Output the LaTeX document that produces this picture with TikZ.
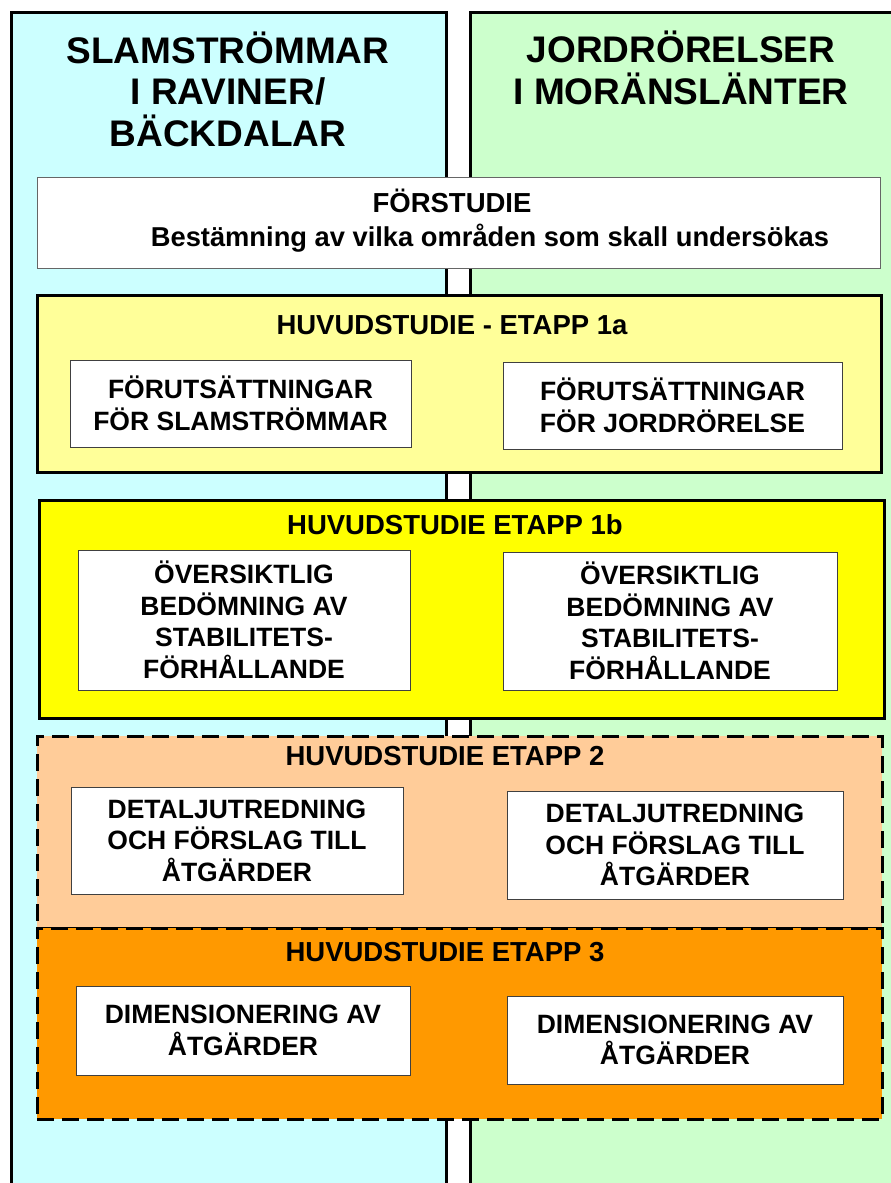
\documentclass[tikz,border=0pt]{standalone}
\usepackage{fontspec}
\setmainfont{Liberation Sans}
\definecolor{colA}{HTML}{CCFFFF}
\definecolor{colB}{HTML}{CCFFCC}
\definecolor{st1a}{HTML}{FFFF99}
\definecolor{st1b}{HTML}{FFFF00}
\definecolor{st2}{HTML}{FFCC99}
\definecolor{st3}{HTML}{FF9900}
\tikzset{
  coltitle/.style={font=\bfseries\fontsize{37}{41.5}\selectfont, align=center, inner sep=0pt},
  stagebox/.style={line width=3pt, draw=black, inner sep=0pt, outer sep=0pt},
  dashbox/.style={stagebox, dash pattern=on 17pt off 8pt},
  stagetitle/.style={font=\bfseries\fontsize{27.5}{31}\selectfont, inner sep=0pt},
  innerbox/.style={draw=black!75, line width=1pt, fill=white, inner sep=0pt, outer sep=0pt,
    align=center, font=\bfseries\fontsize{26.5}{31.5}\selectfont},
}
\begin{document}
\begin{tikzpicture}[x=1pt,y=-1pt]
\useasboundingbox (0,0) rectangle (891,1183);
\fill[white] (0,0) rectangle (891,1183);
% columns
\fill[colA] (11,12) rectangle (446,1190);
\draw[line width=3pt] (11,1190) -- (11,12) -- (446,12) -- (446,1190);
\fill[colB] (470,12) rectangle (900,1190);
\draw[line width=3pt] (470,1190) -- (470,12) -- (900,12);
\node[coltitle] (tA) at (228,89) {SLAMSTRÖMMAR\\I RAVINER/\\BÄCKDALAR};
\node[coltitle] (tB) at (681,68) {JORDRÖRELSER\\I MORÄNSLÄNTER};
% forstudie
\node[draw=black!60, line width=0.8pt, fill=white, minimum width=843pt, minimum height=91pt, inner sep=0pt] (fs) at (458.5,222.5) {};
\node[font=\bfseries\fontsize{27.5}{31}\selectfont, inner sep=0pt] (fsT) at (452,201) {FÖRSTUDIE};
\node[font=\bfseries\fontsize{27.3}{31}\selectfont, inner sep=0pt] (fsS) at (490,238) {Bestämning av vilka områden som skall undersökas};
% etapp 1a
\node[stagebox, fill=st1a, minimum width=844pt, minimum height=177pt] (s1a) at (459,383.5) {};
\node[stagetitle] (s1aT) at (452,325) {HUVUDSTUDIE - ETAPP 1a};
\node[innerbox, minimum width=341pt, minimum height=87pt] (a1) at (240.5,403.5) {FÖRUTSÄTTNINGAR\\FÖR SLAMSTRÖMMAR};
\node[innerbox, minimum width=339pt, minimum height=87pt] (a2) at (672.5,405.5) {FÖRUTSÄTTNINGAR\\FÖR JORDRÖRELSE};
% etapp 1b
\node[stagebox, fill=st1b, minimum width=845pt, minimum height=218pt] (s1b) at (461.5,609) {};
\node[stagetitle] (s1bT) at (455,525) {HUVUDSTUDIE ETAPP 1b};
\node[innerbox, minimum width=332pt, minimum height=140pt] (b1) at (244,620) {ÖVERSIKTLIG\\BEDÖMNING AV\\STABILITETS-\\FÖRHÅLLANDE};
\node[innerbox, minimum width=334pt, minimum height=138pt] (b2) at (670,621) {ÖVERSIKTLIG\\BEDÖMNING AV\\STABILITETS-\\FÖRHÅLLANDE};
% etapp 2
\node[dashbox, fill=st2, minimum width=845pt, minimum height=192pt] (s2) at (459.5,832) {};
\node[stagetitle] (s2T) at (445,756) {HUVUDSTUDIE ETAPP 2};
\node[innerbox, minimum width=332pt, minimum height=107pt] (c1) at (237,840.5) {DETALJUTREDNING\\OCH FÖRSLAG TILL\\ÅTGÄRDER};
\node[innerbox, minimum width=336pt, minimum height=108pt] (c2) at (675,845) {DETALJUTREDNING\\OCH FÖRSLAG TILL\\ÅTGÄRDER};
% etapp 3
\node[dashbox, fill=st3, minimum width=845pt, minimum height=191pt] (s3) at (459.5,1023.5) {};
\node[stagetitle] (s3T) at (445,952) {HUVUDSTUDIE ETAPP 3};
\node[innerbox, minimum width=334pt, minimum height=89pt] (d1) at (243,1030.5) {DIMENSIONERING AV\\ÅTGÄRDER};
\node[innerbox, minimum width=336pt, minimum height=88pt] (d2) at (675,1040) {DIMENSIONERING AV\\ÅTGÄRDER};
\end{tikzpicture}
\end{document}
